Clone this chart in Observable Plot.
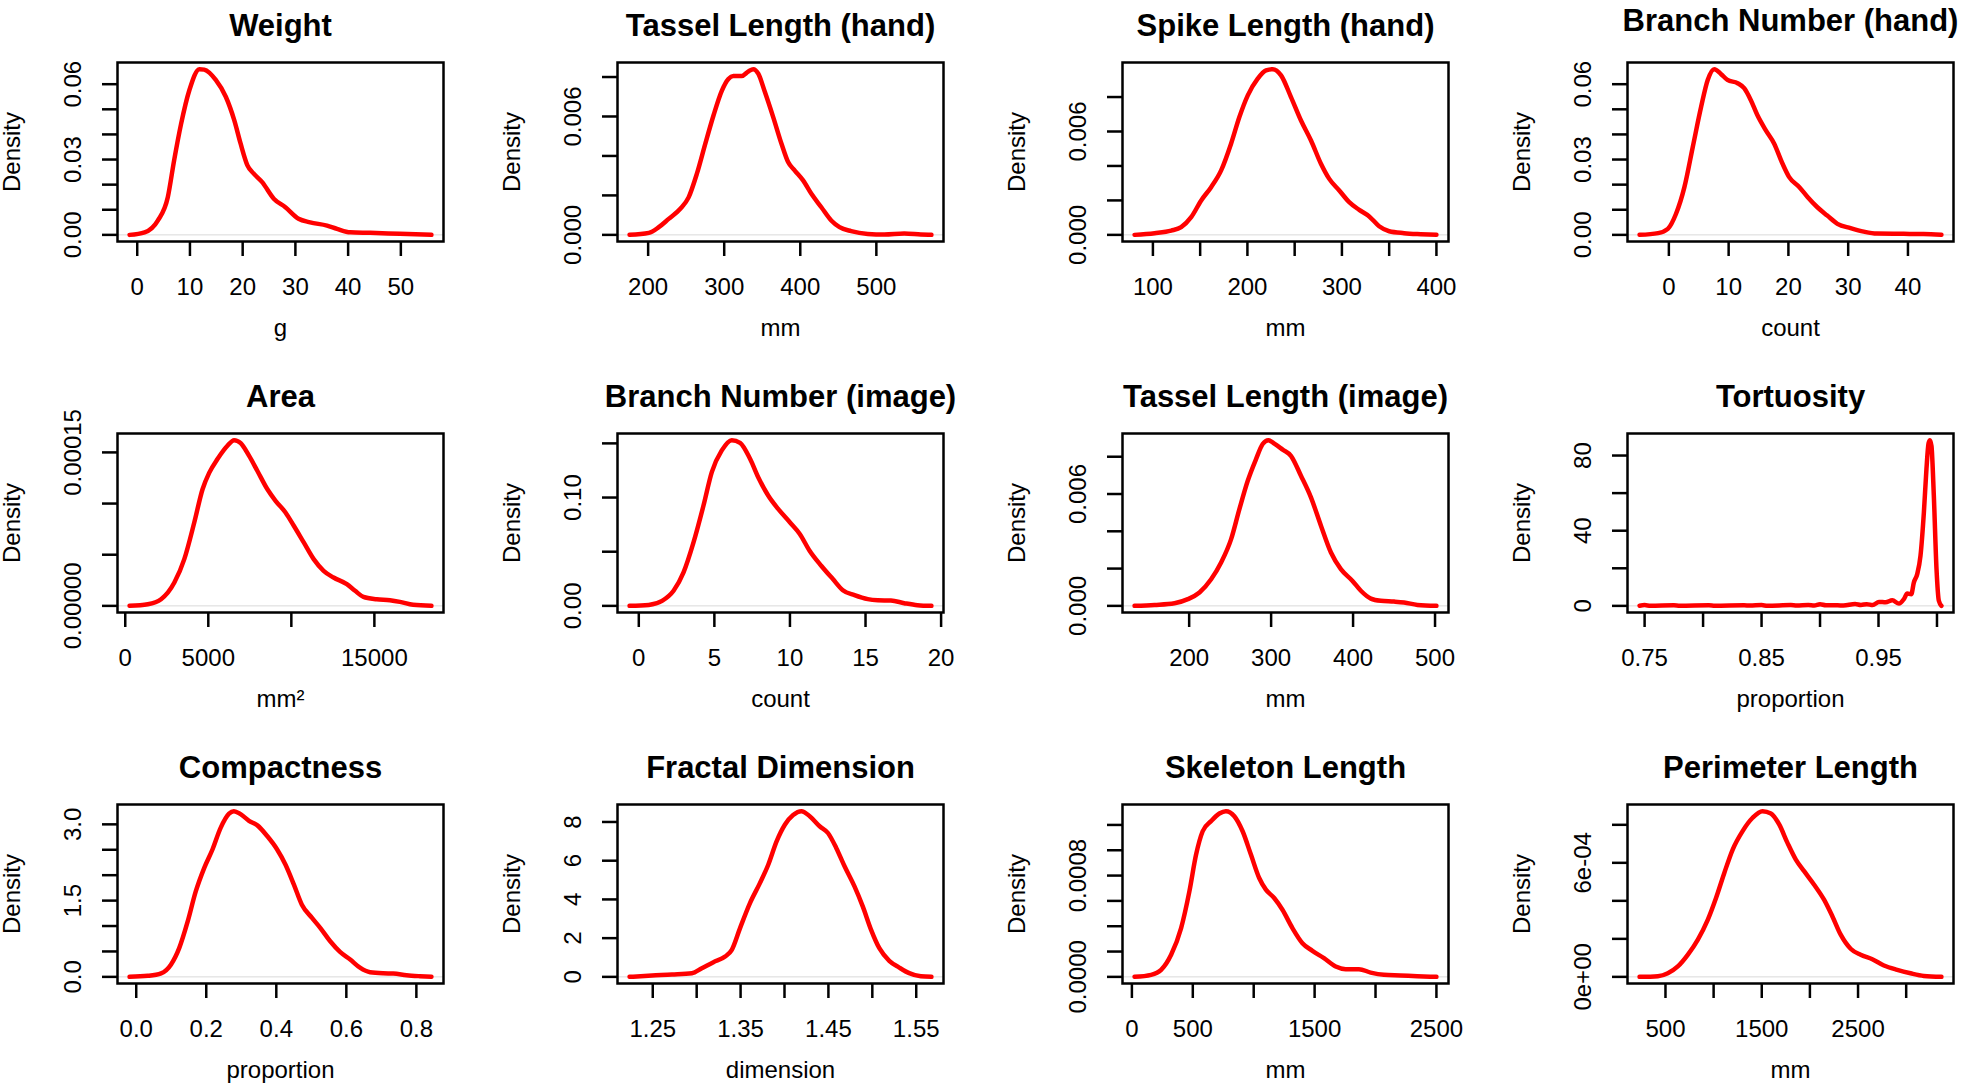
<!DOCTYPE html>
<html><head><meta charset="utf-8">
<script src="https://cdn.jsdelivr.net/npm/d3@7"></script>
<script src="https://cdn.jsdelivr.net/npm/@observablehq/plot@0.6"></script>
<style>
html,body{margin:0;padding:0;background:#fff;overflow:hidden;width:1961px;height:1087px;}
#root{position:relative;width:1961px;height:1087px;}
.panel{position:absolute;}
.panel svg{max-width:none !important;}
</style></head><body><div id="root"></div>
<script>
// ---- titles and units ----
const titles = ["Weight","Tassel Length (hand)","Spike Length (hand)","Branch Number (hand)",
  "Area","Branch Number (image)","Tassel Length (image)","Tortuosity",
  "Compactness","Fractal Dimension","Skeleton Length","Perimeter Length"];
const units = ["g","mm","mm","count","mm\u00B2","count","mm","proportion","proportion","dimension","mm","mm"];

// ---- density curves (x, density) ----
const weightX = [-1.45,1.4,3.9,5.8,7.0,8.3,9.9,11.8,12.7,14.9,16.8,18.4,19.6,20.9,22.1,23.7,25.9,28.1,30.6,32.8,36.0,37.9,40.4,44.2,49.8,55.8];
const weightY = [0,0.001,0.0057,0.015,0.0297,0.044,0.0577,0.066,0.0658,0.0617,0.055,0.0457,0.0364,0.0277,0.0244,0.021,0.0144,0.011,0.0064,0.005,0.0037,0.0024,0.001,0.0008,0.0004,0];

const tasselHandX = [175.6,200.9,214,227,242.3,253.2,264.1,275,285.9,296.8,305.5,312,323,331.7,338.2,344.8,353.5,364.4,375.3,384,392.8,403.7,414.6,427.7,440.7,451.6,466.9,488.7,510.5,536.7,558.5,572.4];
const tasselHandY = [0,0.0001,0.00039,0.00081,0.00132,0.0019,0.0031,0.0046,0.00605,0.0073,0.0079,0.00805,0.00805,0.00828,0.0084,0.00817,0.00724,0.00597,0.00462,0.00369,0.00326,0.00276,0.00208,0.0014,0.00073,0.00039,0.00019,0.00005,0.00002,0.00007,0.00002,0];

const spikeX = [80.6,101.8,119.4,129.9,140.5,151.1,161.6,172.2,182.7,191.5,200.4,210.9,219.7,226.8,235.6,246.1,256.7,267.3,277.8,286.6,297.2,307.7,318.3,328.9,339.4,350,365.8,383.5,400];
const spikeY = [0,0.0001,0.00025,0.00045,0.00103,0.002,0.00277,0.00374,0.00529,0.00684,0.0081,0.00907,0.00955,0.00962,0.00926,0.008,0.00664,0.00548,0.00413,0.00325,0.00258,0.0019,0.00145,0.00107,0.0005,0.00021,0.0001,0.00004,0];

const branchHandX = [-4.9,-1.8,-0.17,1.2,2.6,4.0,5.4,6.5,7.6,8.7,9.8,11.5,12.6,13.7,14.8,16.2,17.6,19.0,20.1,21.8,23.2,24.8,26.5,28.2,30.4,32.6,34.8,39.3,42.6,45.6];
const branchHandY = [0,0.0007,0.0024,0.0084,0.019,0.035,0.051,0.0617,0.066,0.0641,0.0617,0.0604,0.0584,0.0537,0.0477,0.0417,0.0364,0.0284,0.0231,0.0191,0.0151,0.0111,0.0077,0.0044,0.0027,0.0013,0.0005,0.0004,0.0003,0];

const areaX = [260,1358,2157,2956,3555,4155,4654,5053,5553,6152,6552,6951,7450,7950,8549,9049,9648,10148,10747,11346,11943,12542,13341,13840,14340,15139,15938,16537,17336,18435];
const areaY = [0,1.6e-6,6.5e-6,2.28e-5,4.57e-5,8.15e-5,1.14e-4,1.30e-4,1.435e-4,1.565e-4,1.62e-4,1.59e-4,1.468e-4,1.321e-4,1.142e-4,1.027e-4,9.13e-5,7.83e-5,6.2e-5,4.57e-5,3.42e-5,2.77e-5,2.12e-5,1.47e-5,8.8e-6,6.5e-6,5.5e-6,3.9e-6,1e-6,0];

const branchImgX = [-0.61,0.66,1.54,2.3,2.96,3.62,4.28,4.83,5.49,6.15,6.7,7.36,7.9,8.56,9.22,9.99,10.65,11.3,12.07,12.84,13.5,14.27,15.15,15.81,16.68,17.56,18.44,19.36];
const branchImgY = [0,0.0009,0.0046,0.0139,0.0309,0.0586,0.0926,0.1235,0.1435,0.153,0.1505,0.1358,0.1188,0.1019,0.0895,0.0772,0.0664,0.0509,0.037,0.0247,0.0145,0.0099,0.0062,0.0052,0.0049,0.0025,0.0006,0];

const tasselImgX = [133.4,157.8,182.1,198.4,212.6,226.8,239,251.2,261.3,271.5,281.6,289.7,296.6,303.9,314.1,324.2,336.4,348.6,360.8,373,385.1,399.3,409.5,421.7,433.9,450.1,462.3,478.5,501.7];
const tasselImgY = [0,0.00005,0.00014,0.00036,0.00072,0.00143,0.00233,0.00358,0.00519,0.00671,0.00787,0.00868,0.00889,0.0087,0.00838,0.00805,0.00698,0.00582,0.0043,0.00286,0.00197,0.00134,0.00081,0.00039,0.00027,0.00023,0.00018,0.00005,0];

const tortX = [0.7457,0.75,0.755,0.775,0.78,0.805,0.81,0.835,0.84,0.85,0.855,0.875,0.88,0.89,0.895,0.90,0.905,0.915,0.92,0.93,0.935,0.94,0.945,0.9504,0.9561,0.9618,0.9675,0.9717,0.9746,0.9780,0.9802,0.9831,0.9859,0.9888,0.9910,0.9928,0.9940,0.9953,0.9973,0.9996,1.0016,1.0038];
const tortY = [0.1,0.4,0.1,0.3,0.1,0.3,0.1,0.3,0.2,0.4,0.1,0.4,0.2,0.4,0.2,0.9,0.3,0.3,0.2,1.0,0.5,0.9,0.4,2.1,1.9,3.0,1.2,3.6,6.6,6.2,12.4,16.9,26.7,49.8,72.9,86.5,88.2,85,58.7,19.6,2.7,0];

const compX = [-0.019,0.033,0.071,0.099,0.123,0.147,0.170,0.194,0.218,0.241,0.265,0.279,0.298,0.322,0.346,0.374,0.402,0.426,0.45,0.473,0.502,0.526,0.554,0.582,0.611,0.639,0.668,0.705,0.734,0.772,0.81,0.843];
const compY = [0,0.02,0.07,0.24,0.57,1.09,1.68,2.14,2.51,2.93,3.21,3.26,3.2,3.07,2.98,2.77,2.51,2.21,1.82,1.42,1.16,0.96,0.7,0.49,0.34,0.18,0.09,0.07,0.066,0.033,0.013,0];

const fractalX = [1.2236,1.2492,1.2719,1.2946,1.3059,1.3191,1.3324,1.34,1.3494,1.3607,1.372,1.3815,1.391,1.4004,1.4098,1.4193,1.4287,1.44,1.4495,1.4589,1.4684,1.4797,1.4891,1.4986,1.508,1.5193,1.5307,1.542,1.5552,1.5673];
const fractalY = [0,0.07,0.12,0.19,0.45,0.76,1.05,1.4,2.52,3.81,4.84,5.79,7.0,7.86,8.36,8.56,8.3,7.78,7.43,6.66,5.71,4.67,3.64,2.43,1.48,0.83,0.48,0.19,0.03,0];

const skelX = [22,158,240,322,404,472,527,581,650,718,772,841,909,977,1045,1100,1168,1236,1318,1400,1482,1577,1673,1755,1864,1960,2069,2205,2342,2500];
const skelY = [0,1.6e-5,5.5e-5,1.74e-4,3.85e-4,6.75e-4,9.66e-4,1.15e-3,1.23e-3,1.29e-3,1.309e-3,1.269e-3,1.15e-3,9.66e-4,7.81e-4,6.89e-4,6.23e-4,5.3e-4,3.85e-4,2.66e-4,2.06e-4,1.48e-4,8.2e-5,6.1e-5,6.1e-5,3.4e-5,1.6e-5,1.1e-5,5e-6,0];

const perimX = [231,421,524,628,731,835,939,1025,1111,1198,1301,1405,1508,1595,1681,1767,1854,1940,2044,2147,2234,2320,2423,2527,2648,2769,2907,3045,3183,3366];
const perimY = [0,3.5e-6,1.9e-5,5.5e-5,1.16e-4,1.95e-4,3.0e-4,4.15e-4,5.47e-4,6.7e-4,7.67e-4,8.37e-4,8.72e-4,8.6e-4,8.02e-4,7.05e-4,6.17e-4,5.56e-4,4.85e-4,4.06e-4,3.18e-4,2.22e-4,1.48e-4,1.16e-4,9.3e-5,6.0e-5,3.7e-5,1.9e-5,5e-6,0];

// ---- ticks and tick labels ("" = tick without label) ----
const weightXTicks = [0,10,20,30,40,50];            const weightXLabels = ["0","10","20","30","40","50"];
const dens06Ticks = [0,0.01,0.02,0.03,0.04,0.05,0.06]; const dens06Labels = ["0.00","","","0.03","","","0.06"];
const len008Ticks = [0,0.002,0.004,0.006,0.008];   const len008Labels = ["0.000","","","0.006",""];
const tasselHandXTicks = [200,300,400,500];         const tasselHandXLabels = ["200","300","400","500"];
const spikeXTicks = [100,150,200,250,300,350,400];  const spikeXLabels = ["100","","200","","300","","400"];
const branchHandXTicks = [0,10,20,30,40];           const branchHandXLabels = ["0","10","20","30","40"];
const areaXTicks = [0,5000,10000,15000];            const areaXLabels = ["0","5000","","15000"];
const areaYTicks = [0,5e-5,1e-4,1.5e-4];            const areaYLabels = ["0.00000","","","0.00015"];
const branchImgXTicks = [0,5,10,15,20];             const branchImgXLabels = ["0","5","10","15","20"];
const branchImgYTicks = [0,0.05,0.10,0.15];         const branchImgYLabels = ["0.00","","0.10",""];
const tasselImgXTicks = [200,300,400,500];          const tasselImgXLabels = ["200","300","400","500"];
const tortXTicks = [0.75,0.80,0.85,0.90,0.95,1.00]; const tortXLabels = ["0.75","","0.85","","0.95",""];
const tortYTicks = [0,20,40,60,80];                 const tortYLabels = ["0","","40","","80"];
const compXTicks = [0,0.2,0.4,0.6,0.8];             const compXLabels = ["0.0","0.2","0.4","0.6","0.8"];
const compYTicks = [0,0.5,1,1.5,2,2.5,3];           const compYLabels = ["0.0","","","1.5","","","3.0"];
const fractalXTicks = [1.25,1.30,1.35,1.40,1.45,1.50,1.55]; const fractalXLabels = ["1.25","","1.35","","1.45","","1.55"];
const fractalYTicks = [0,2,4,6,8];                  const fractalYLabels = ["0","2","4","6","8"];
const skelXTicks = [0,500,1000,1500,2000,2500];     const skelXLabels = ["0","500","","1500","","2500"];
const skelYTicks = [0,0.0002,0.0004,0.0006,0.0008,0.0010,0.0012]; const skelYLabels = ["0.0000","","","","0.0008","",""];
const perimXTicks = [500,1000,1500,2000,2500,3000]; const perimXLabels = ["500","","1500","","2500",""];
const perimYTicks = [0,2e-4,4e-4,6e-4,8e-4];        const perimYLabels = ["0e+00","","","6e-04",""];

// ---- assemble panels ----
const curvesX = [weightX,tasselHandX,spikeX,branchHandX,areaX,branchImgX,tasselImgX,tortX,compX,fractalX,skelX,perimX];
const curvesY = [weightY,tasselHandY,spikeY,branchHandY,areaY,branchImgY,tasselImgY,tortY,compY,fractalY,skelY,perimY];
const xTicksAll = [weightXTicks,tasselHandXTicks,spikeXTicks,branchHandXTicks,areaXTicks,branchImgXTicks,tasselImgXTicks,tortXTicks,compXTicks,fractalXTicks,skelXTicks,perimXTicks];
const xLabelsAll = [weightXLabels,tasselHandXLabels,spikeXLabels,branchHandXLabels,areaXLabels,branchImgXLabels,tasselImgXLabels,tortXLabels,compXLabels,fractalXLabels,skelXLabels,perimXLabels];
const yTicksAll = [dens06Ticks,len008Ticks,len008Ticks,dens06Ticks,areaYTicks,branchImgYTicks,len008Ticks,tortYTicks,compYTicks,fractalYTicks,skelYTicks,perimYTicks];
const yLabelsAll = [dens06Labels,len008Labels,len008Labels,dens06Labels,areaYLabels,branchImgYLabels,len008Labels,tortYLabels,compYLabels,fractalYLabels,skelYLabels,perimYLabels];

const colLeft = [117, 617, 1122, 1627], rowTop = [62, 433, 804];
const boxW = 326, boxH = 179;
const mL = 116, mR = 40, mT = 62, mB = 104;
const W = mL + boxW + mR, H = mT + boxH + mB;
const FONT = "'Liberation Sans', Arial, Helvetica, sans-serif";
const root = document.getElementById("root");

function ext(a) { const lo = d3.min(a), hi = d3.max(a), d = (hi - lo) * 0.04; return [lo - d, hi + d]; }

titles.forEach((title, i) => {
  const r = Math.floor(i / 4), c = i % 4;
  const pts = curvesX[i].map((x, j) => ({x, y: curvesY[i][j]}));
  const xl = xTicksAll[i].map((v, j) => ({v, s: xLabelsAll[i][j]})).filter(d => d.s);
  const yl = yTicksAll[i].map((v, j) => ({v, s: yLabelsAll[i][j]})).filter(d => d.s);
  const svg = Plot.plot({
    width: W, height: H,
    marginLeft: mL, marginRight: mR, marginTop: mT, marginBottom: mB,
    x: {domain: ext(curvesX[i])},
    y: {domain: ext(curvesY[i])},
    style: {fontFamily: FONT, fontSize: "24px", background: "transparent", overflow: "visible", color: "#000", maxWidth: "none"},
    marks: [
      Plot.ruleY([0], {stroke: "#d9d9d9", strokeWidth: 1}),
      Plot.line(pts, {x: "x", y: "y", stroke: "#ff0000", strokeWidth: 4.5, curve: "monotone-x", strokeLinejoin: "round", strokeLinecap: "round"}),
      Plot.frame({stroke: "#000", strokeWidth: 2.5}),
      Plot.axisX(xTicksAll[i], {tickSize: 15, tickFormat: () => "", strokeWidth: 2.5, label: null}),
      Plot.axisY(yTicksAll[i], {tickSize: 15, tickFormat: () => "", strokeWidth: 2.5, label: null}),
      Plot.text(xl, {x: "v", text: "s", frameAnchor: "bottom", dy: 46, fontSize: 24, textAnchor: "middle", lineAnchor: "middle"}),
      Plot.text(yl, {y: "v", text: "s", frameAnchor: "left", dx: -44, rotate: -90, fontSize: 24, textAnchor: "middle", lineAnchor: "middle"}),
      Plot.text(["Density"], {text: d => d, frameAnchor: "left", dx: -105, rotate: -90, fontSize: 24, textAnchor: "middle", lineAnchor: "middle"}),
      Plot.text([units[i]], {text: d => d, frameAnchor: "bottom", dy: 87, fontSize: 24, textAnchor: "middle", lineAnchor: "middle"}),
      Plot.text([title], {text: d => d, frameAnchor: "top", dy: (i === 3 ? -41 : -36), fontSize: 31, fontWeight: "bold", textAnchor: "middle", lineAnchor: "middle"})
    ]
  });
  svg.style.maxWidth = "none";
  const div = document.createElement("div");
  div.className = "panel";
  div.style.left = (colLeft[c] - mL) + "px";
  div.style.top = (rowTop[r] - mT) + "px";
  div.style.width = W + "px";
  div.style.height = H + "px";
  div.appendChild(svg);
  root.appendChild(div);
});
</script>
</body></html>
